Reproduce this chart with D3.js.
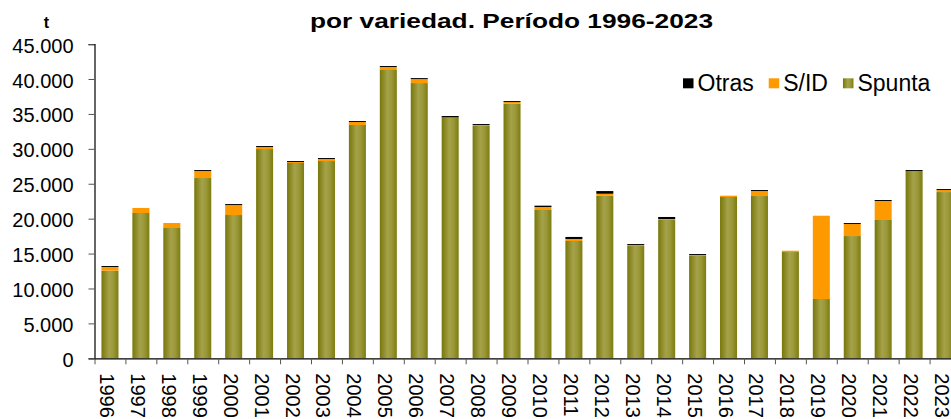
<!DOCTYPE html>
<html>
<head>
<meta charset="utf-8">
<script src="https://cdn.jsdelivr.net/npm/d3@7"></script>
<style>
  body { margin: 0; background: #fff; }
  svg { display: block; font-family: "Liberation Sans", Arial, sans-serif; }
</style>
</head>
<body>
<div id="chart"></div>
<script>
// data (t)
var years = ["1996", "1997", "1998", "1999", "2000", "2001", "2002", "2003", "2004", "2005",
             "2006", "2007", "2008", "2009", "2010", "2011", "2012", "2013", "2014", "2015",
             "2016", "2017", "2018", "2019", "2020", "2021", "2022", "2023"];
var spunta = [12550, 20810, 18660, 25820, 20520, 29970, 27970, 28250, 33410, 41290,
              39420, 34510, 33270, 36460, 21240, 16800, 23280, 16080, 19810, 14650,
              23100, 23240, 15220, 8490, 17510, 19810, 26820, 23810];
var sid = [530, 720, 720, 1000, 1430, 290, 140, 290, 430, 430,
           570, 0, 140, 240, 430, 290, 290, 140, 140, 140,
           190, 720, 190, 11930, 1720, 2720, 0, 290];
var otras = [140, 0, 0, 140, 140, 140, 140, 140, 140, 140,
             140, 190, 140, 140, 190, 290, 380, 140, 290, 140,
             0, 140, 0, 0, 140, 140, 140, 140];
var yTicks = [0, 5000, 10000, 15000, 20000, 25000, 30000, 35000, 40000, 45000];
var seriesKeys = ["Spunta", "S/ID", "Otras"];
var legendKeys = ["Otras", "S/ID", "Spunta"];

var width = 951, height = 419;
var plotLeft = 94.5, plotRight = 960.5, plotTop = 44.1, plotBottom = 358.3;

var svg = d3.select("#chart").append("svg")
    .attr("width", width)
    .attr("height", height);

// gradient for the Spunta bars
var grad = svg.append("defs").append("linearGradient")
    .attr("id", "olive")
    .attr("x1", "0%").attr("x2", "100%")
    .attr("y1", "0%").attr("y2", "0%");
grad.append("stop").attr("offset", "0%").attr("stop-color", "#77770a");
grad.append("stop").attr("offset", "45%").attr("stop-color", "#a5a24a");
grad.append("stop").attr("offset", "70%").attr("stop-color", "#9a9838");
grad.append("stop").attr("offset", "100%").attr("stop-color", "#7c7c0e");

var color = { "Spunta": "url(#olive)", "S/ID": "#ff9900", "Otras": "#000000" };

var table = years.map(function (y, i) {
    return { year: y, "Spunta": spunta[i], "S/ID": sid[i], "Otras": otras[i] };
});

var x = d3.scaleBand()
    .domain(years)
    .range([plotLeft, plotRight])
    .paddingInner(0.45)
    .paddingOuter(0.225);

var y = d3.scaleLinear()
    .domain([0, 45000])
    .range([plotBottom, plotTop]);

var stack = d3.stack().keys(seriesKeys)(table);

// bars
svg.append("g").selectAll("g")
    .data(stack)
    .enter().append("g")
    .attr("fill", function (d) { return color[d.key]; })
    .selectAll("rect")
    .data(function (d) { return d; })
    .enter().append("rect")
    .attr("x", function (d) { return x(d.data.year); })
    .attr("width", x.bandwidth())
    .attr("y", function (d) { return y(d[1]); })
    .attr("height", function (d) { return y(d[0]) - y(d[1]); });

// y axis
var fmt = function (v) { return v === 0 ? "0" : d3.format(",")(v).replace(/,/g, "."); };
var yAxis = svg.append("g")
    .attr("transform", "translate(" + plotLeft + ",0)")
    .call(d3.axisLeft(y).tickValues(yTicks).tickFormat(fmt).tickSize(6).tickPadding(15));
yAxis.select(".domain").attr("stroke", "#000").attr("stroke-width", 1.2);
yAxis.selectAll(".tick line").attr("stroke", "#555");
yAxis.selectAll("text")
    .attr("dy", "8px")
    .style("font-size", "20px")
    .attr("fill", "#000");

// x axis: boundary ticks
var xi = d3.scaleLinear().domain([0, years.length]).range([plotLeft, plotRight]);
var xTicks = svg.append("g")
    .attr("transform", "translate(0," + plotBottom + ")")
    .call(d3.axisBottom(xi).ticks(years.length).tickFormat("").tickSize(6).tickSizeOuter(0));
xTicks.select(".domain").attr("stroke", "#000").attr("stroke-width", 1.2);
xTicks.selectAll(".tick line").attr("stroke", "#555");

// x axis: rotated year labels
var xAxis = svg.append("g")
    .attr("transform", "translate(0," + plotBottom + ")")
    .call(d3.axisBottom(x).tickSize(0).tickPadding(0));
xAxis.select(".domain").remove();
xAxis.selectAll("text")
    .attr("transform", "translate(0,15) rotate(90)")
    .attr("text-anchor", "start")
    .attr("x", 0)
    .attr("y", 0)
    .attr("dy", "10px")
    .style("font-size", "20px")
    .attr("fill", "#000");

// unit label
svg.append("text")
    .attr("x", 46.5)
    .attr("y", 27.5)
    .attr("text-anchor", "middle")
    .style("font-size", "16px")
    .style("font-weight", "700")
    .text("t");

// title (second line, first line is outside the frame)
svg.append("text")
    .attr("x", 310)
    .attr("y", 28)
    .attr("textLength", 403)
    .attr("lengthAdjust", "spacingAndGlyphs")
    .style("font-size", "21px")
    .style("font-weight", "700")
    .text("por variedad. Período 1996-2023");

// legend
var lx = 683;
legendKeys.forEach(function (k) {
    svg.append("rect")
        .attr("x", lx).attr("y", 78.3)
        .attr("width", 10.5).attr("height", 10)
        .attr("fill", color[k]);
    var t = svg.append("text")
        .attr("x", lx + 14.5)
        .attr("y", 90.5)
        .style("font-size", "23px")
        .text(k);
    lx += 14.5 + t.node().getComputedTextLength() + 15;
});
</script>
</body>
</html>
